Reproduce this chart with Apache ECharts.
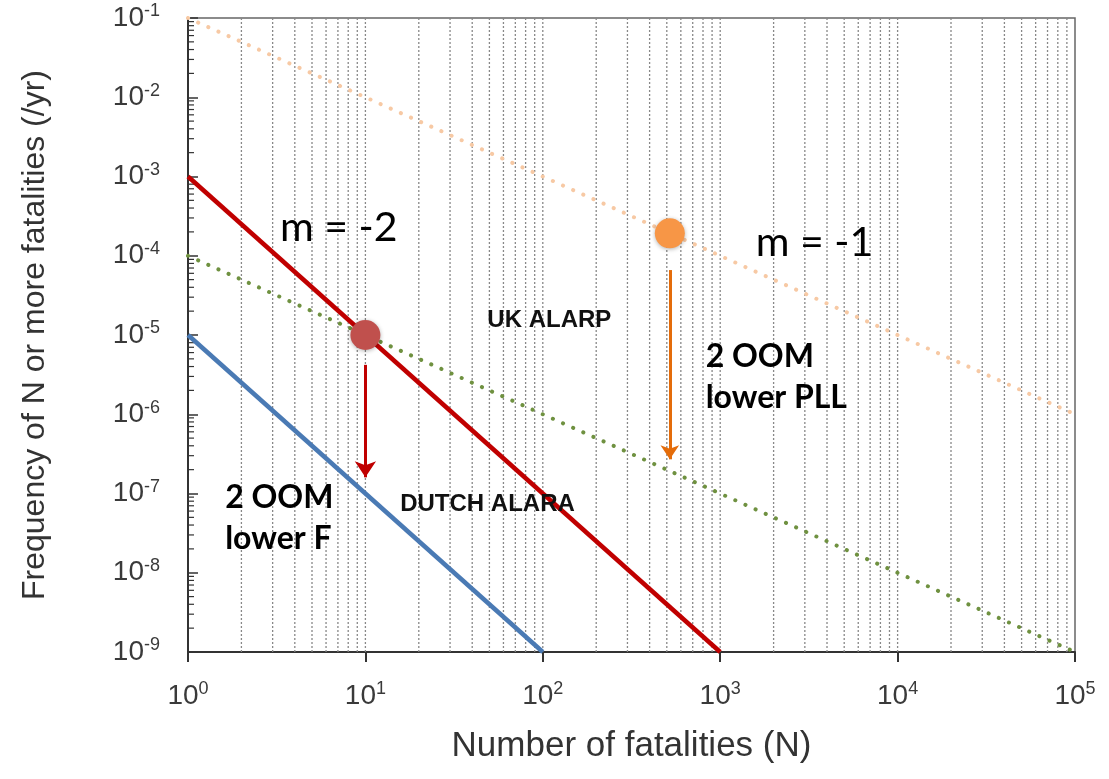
<!DOCTYPE html>
<html><head><meta charset="utf-8">
<script src="https://cdn.jsdelivr.net/npm/echarts@6/dist/echarts.min.js"></script>
<style>html,body{margin:0;padding:0;background:#fff}#c{width:1109px;height:779px}</style>
</head><body><div id="c"></div>
<script>
// Criterion lines: [N, F] end points
const ukUpper   = [[1, 1e-1], [1e5, 1e-6]];   // orange dotted, m = -1
const redLine   = [[1, 1e-3], [1e3, 1e-9]];   // red solid, m = -2
const ukLower   = [[1, 1e-4], [1e5, 1e-9]];   // green dotted
const blueLine  = [[1, 1e-5], [1e2, 1e-9]];   // blue solid
const redPoint  = [[10, 1e-5]];
const orangePoint = [[520, 1.92e-4]];
const redArrow = [[10, 4.2e-6], [10, 1.6e-7]];
const orangeArrow = [[520, 6.6e-5], [520, 2.7e-7]];
const xMinorGrid = [2,3,4,5,6,7,8,9,10,20,30,40,50,60,70,80,90,100,200,300,400,500,600,700,800,900,1000,2000,3000,4000,5000,6000,7000,8000,9000,10000,20000,30000,40000,50000,60000,70000,80000,90000];
const yMinorTicks = [2e-9,3e-9,4e-9,5e-9,6e-9,7e-9,8e-9,9e-9,2e-8,3e-8,4e-8,5e-8,6e-8,7e-8,8e-8,9e-8,2e-7,3e-7,4e-7,5e-7,6e-7,7e-7,8e-7,9e-7,2e-6,3e-6,4e-6,5e-6,6e-6,7e-6,8e-6,9e-6,2e-5,3e-5,4e-5,5e-5,6e-5,7e-5,8e-5,9e-5,2e-4,3e-4,4e-4,5e-4,6e-4,7e-4,8e-4,9e-4,2e-3,3e-3,4e-3,5e-3,6e-3,7e-3,8e-3,9e-3,2e-2,3e-2,4e-2,5e-2,6e-2,7e-2,8e-2,9e-2];
const xTickExp = ['0','1','2','3','4','5'];
const yTickExp = ['-9','-8','-7','-6','-5','-4','-3','-2','-1'];
const annotations = [
  {text: 'm = -2', x: 3.3, y: 2.24e-4, style: 'big'},
  {text: 'm = -1', x: 1585, y: 1.45e-4, style: 'big'},
  {text: 'UK ALARP', x: 48.7, y: 1.55e-5, style: 'small'},
  {text: 'DUTCH ALARA', x: 15.7, y: 7.2e-8, style: 'small'},
  {text: '2 OOM\nlower F', x: 1.62, y: 4.9e-8, style: 'mid'},
  {text: '2 OOM\nlower PLL', x: 828, y: 2.95e-6, style: 'mid'}
];

const chart = echarts.init(document.getElementById('c'));
const supLabel = (exps) => (v) => {
  const e = String(Math.round(Math.log10(v)));
  return exps.includes(e) ? '{b|10}{s|' + e + '}' : '';
};
const richTick = {
  b: {fontSize: 28, color: '#3a3a3a', fontFamily: 'Liberation Sans', lineHeight: 32},
  s: {fontSize: 18, color: '#3a3a3a', fontFamily: 'Liberation Sans', padding: [0, 0, 13, 0]}
};
const annStyles = {
  big: {fontSize: 41, fontFamily: 'Lato', color: '#000', fontWeight: 'normal', lineHeight: 46},
  small: {fontSize: 24, fontFamily: 'Liberation Sans', color: '#111', fontWeight: 'bold', lineHeight: 28},
  mid: {fontSize: 32, fontFamily: 'Lato', color: '#000', fontWeight: 'bold', lineHeight: 41}
};

chart.setOption({
  animation: false,
  grid: {left: 188, right: 34, top: 18, bottom: 127, show: true, borderColor: '#666', borderWidth: 1.5,
    containLabel: false, outerBoundsMode: 'none'},
  xAxis: {
    type: 'log', min: 1, max: 1e5, logBase: 10,
    name: 'Number of fatalities (N)', nameLocation: 'middle', nameGap: 77,
    nameTextStyle: {fontSize: 35, color: '#333', fontFamily: 'Liberation Sans'},
    axisLine: {lineStyle: {color: '#333', width: 2}},
    axisTick: {show: true, inside: false, length: 10, lineStyle: {color: '#333', width: 2}},
    axisLabel: {formatter: supLabel(xTickExp), rich: richTick, margin: 28},
    splitLine: {show: false}
  },
  yAxis: {
    type: 'log', min: 1e-9, max: 1e-1, logBase: 10,
    name: 'Frequency of N or more fatalities (/yr)', nameLocation: 'middle', nameGap: 137,
    nameTextStyle: {fontSize: 32, color: '#333', fontFamily: 'Liberation Sans'},
    axisLine: {show: true, lineStyle: {color: '#333', width: 2}},
    axisTick: {show: true, inside: true, length: 10, lineStyle: {color: '#333', width: 1.5}},
    axisLabel: {formatter: supLabel(yTickExp), rich: richTick, margin: 28},
    splitLine: {show: false}
  },
  series: [
    {
      type: 'custom', silent: true, z: 1,
      data: xMinorGrid.map(v => [v]),
      renderItem: (params, api) => {
        const a = api.coord([api.value(0), 1e-1]);
        const b = api.coord([api.value(0), 1e-9]);
        return {type: 'line', shape: {x1: a[0], y1: a[1], x2: b[0], y2: b[1]},
          style: {stroke: '#888', lineWidth: 1.3, lineDash: [2, 2]}};
      }
    },
    {
      type: 'custom', silent: true, z: 3,
      data: yMinorTicks.map(v => [1, v]),
      renderItem: (params, api) => {
        const a = api.coord([api.value(0), api.value(1)]);
        return {type: 'line', shape: {x1: a[0], y1: a[1], x2: a[0] + 6, y2: a[1]},
          style: {stroke: '#333', lineWidth: 1.2}};
      }
    },
    {type: 'line', data: ukUpper, symbol: 'none', z: 4,
      lineStyle: {color: '#f7c9a4', width: 4, type: [0.1, 11], cap: 'round'}},
    {type: 'line', data: ukLower, symbol: 'none', z: 4,
      lineStyle: {color: '#6f9140', width: 4, type: [0.1, 11], cap: 'round'}},
    {type: 'line', data: redLine, symbol: 'none', z: 5,
      lineStyle: {color: '#c00000', width: 4.5}},
    {type: 'line', data: blueLine, symbol: 'none', z: 5,
      lineStyle: {color: '#4a7ab4', width: 4.5}},
    {type: 'line', data: redArrow, symbol: 'none', z: 6, lineStyle: {width: 0},
      markLine: {silent: true, symbol: ['none', 'arrow'], symbolSize: [16, 16], label: {show: false},
        lineStyle: {color: '#c00000', width: 3, type: 'solid'},
        data: [[{coord: redArrow[0]}, {coord: redArrow[1]}]]}},
    {type: 'line', data: orangeArrow, symbol: 'none', z: 6, lineStyle: {width: 0},
      markLine: {silent: true, symbol: ['none', 'arrow'], symbolSize: [14, 14], label: {show: false},
        lineStyle: {color: '#e46c0a', width: 3, type: 'solid'},
        data: [[{coord: orangeArrow[0]}, {coord: orangeArrow[1]}]]}},
    {type: 'scatter', data: redPoint, symbolSize: 30, z: 7,
      itemStyle: {color: '#c0504d', opacity: 1, shadowBlur: 4, shadowColor: 'rgba(0,0,0,0.3)', shadowOffsetY: 1}},
    {type: 'scatter', data: orangePoint, symbolSize: 30, z: 7,
      itemStyle: {color: '#f79646', opacity: 1, shadowBlur: 4, shadowColor: 'rgba(0,0,0,0.3)', shadowOffsetY: 1}},
    {type: 'scatter', symbolSize: 0, z: 8, silent: true, itemStyle: {opacity: 1},
      data: annotations.map(a => ({value: [a.x, a.y],
        label: Object.assign({show: true, formatter: a.text, position: 'right', distance: 0, align: 'left', verticalAlign: 'middle'}, annStyles[a.style])}))}
  ]
});
</script></body></html>
